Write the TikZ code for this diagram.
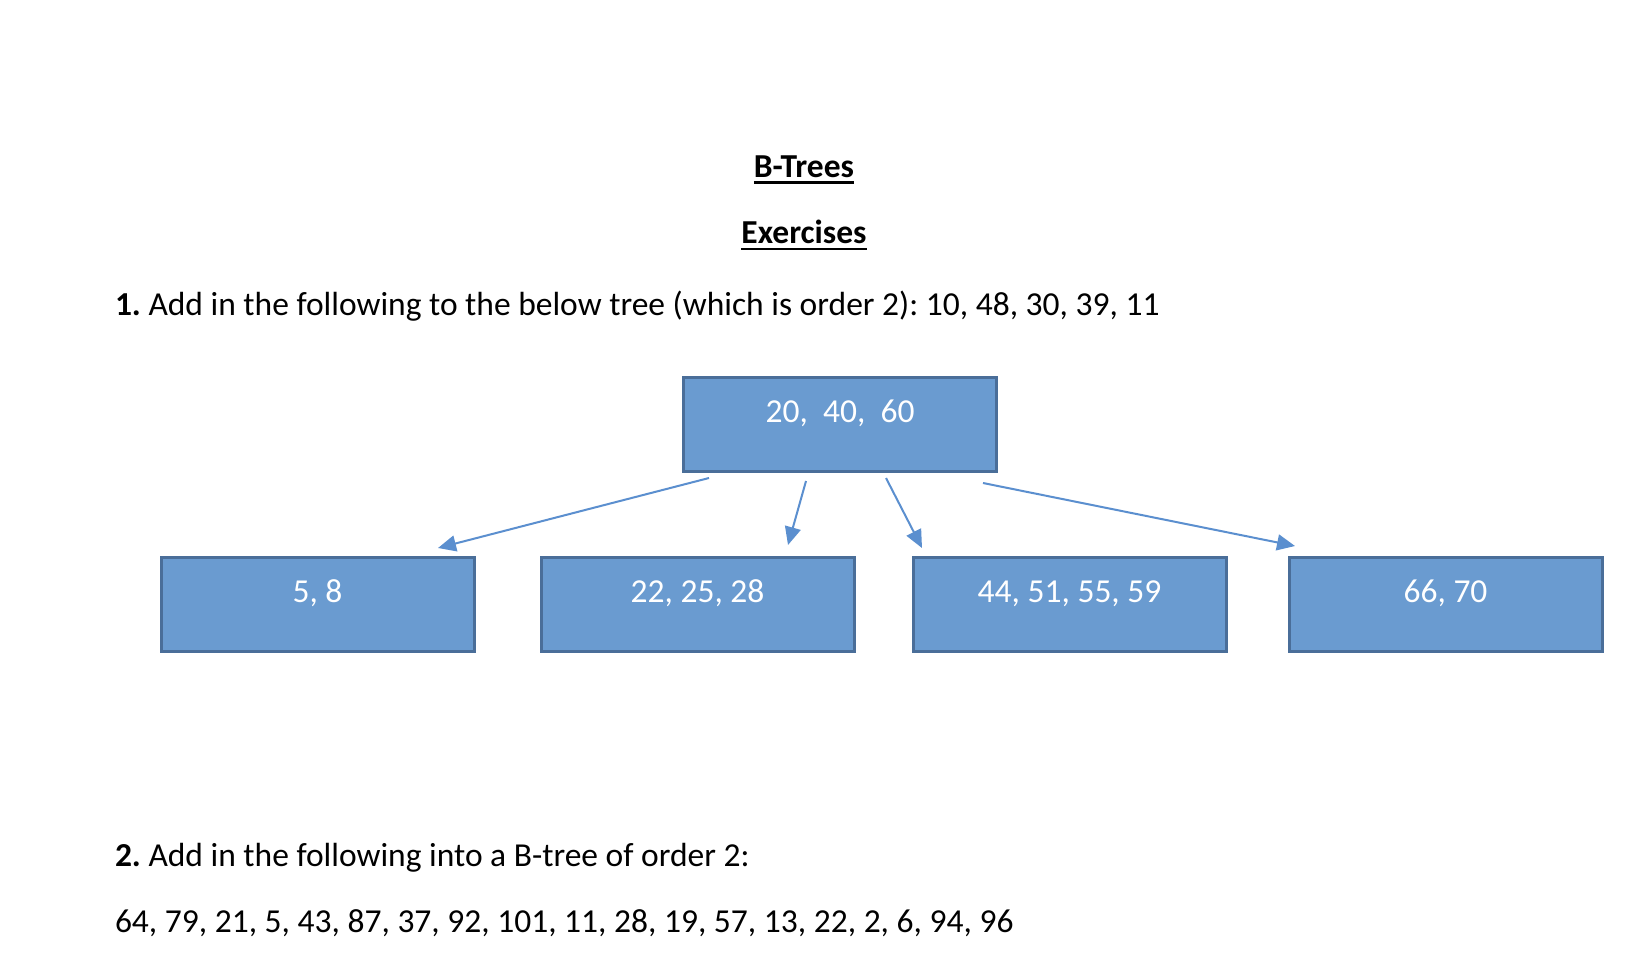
\documentclass[tikz,border=0pt]{standalone}
\usepackage{fontspec}
\setmainfont{Carlito}
\usetikzlibrary{arrows.meta,calc}
\definecolor{boxfill}{RGB}{106,155,208}
\definecolor{boxline}{RGB}{74,110,153}
\definecolor{arrowcol}{RGB}{91,143,207}
\frenchspacing
\begin{document}
\begin{tikzpicture}[x=1pt,y=-1pt,
  bigfont/.style={font=\fontsize{33.5}{40}\selectfont},
  txt/.style={bigfont,inner sep=0pt,outer sep=0pt,anchor=base west},
  ttl/.style={inner sep=0pt,outer sep=0pt,anchor=base,font=\fontsize{33.5}{40}\selectfont\bfseries},
  keybox/.style={draw=boxline,fill=boxfill,line width=3pt,minimum width=313pt,minimum height=94pt,inner sep=0pt,outer sep=0pt},
  keytxt/.style={bigfont,text=white,inner sep=0pt,anchor=base},
  link/.style={draw=arrowcol,line width=2pt,-{Triangle[length=18pt,width=16pt]}}
]
\useasboundingbox (0,0) rectangle (1644,964);
\fill[white] (0,0) rectangle (1644,964);
% titles
\node[ttl] (bt) at (804,177) {B-Trees};
\draw[line width=2.5pt] ([yshift=-5.5pt]bt.base west) -- ([yshift=-5.5pt]bt.base east);
\node[ttl] (ex) at (804,243) {Exercises};
\draw[line width=2.5pt] ([yshift=-6pt]ex.base west) -- ([yshift=-6pt]ex.base east);
% question 1
\node[txt] (q1) at (115,315) {\textbf{1.} Add in the following to the below tree (which is order 2): 10, 48, 30, 39, 11};
% boxes
\node[keybox] (root) at (840,424.5) {};
\node[keytxt] (roott) at (840,422) {20,\ \ 40,\ \ 60};
\node[keybox] (b1) at (317.5,604.5) {};
\node[keytxt] (b1t) at (317.5,602) {5, 8};
\node[keybox] (b2) at (697.5,604.5) {};
\node[keytxt] (b2t) at (697.5,602) {22, 25, 28};
\node[keybox] (b3) at (1069.5,604.5) {};
\node[keytxt] (b3t) at (1069.5,602) {44, 51, 55, 59};
\node[keybox] (b4) at (1445.5,604.5) {};
\node[keytxt] (b4t) at (1445.5,602) {66, 70};
% arrow ends
\coordinate (s1) at (709,478);
\coordinate (t1) at (438,548);
\coordinate (s2) at (806,481);
\coordinate (t2) at (788,545);
\coordinate (s3) at (886,478);
\coordinate (t3) at (922,548);
\coordinate (s4) at (983,483);
\coordinate (t4) at (1295,546);
\draw[link] (s1) -- (t1);
\draw[link] (s2) -- (t2);
\draw[link] (s3) -- (t3);
\draw[link] (s4) -- (t4);
% question 2
\node[txt] (q2) at (115,866) {\textbf{2.} Add in the following into a B-tree of order 2:};
\node[txt] (q2l) at (115,932) {64, 79, 21, 5, 43, 87, 37, 92, 101, 11, 28, 19, 57, 13, 22, 2, 6, 94, 96};
\end{tikzpicture}
\end{document}
